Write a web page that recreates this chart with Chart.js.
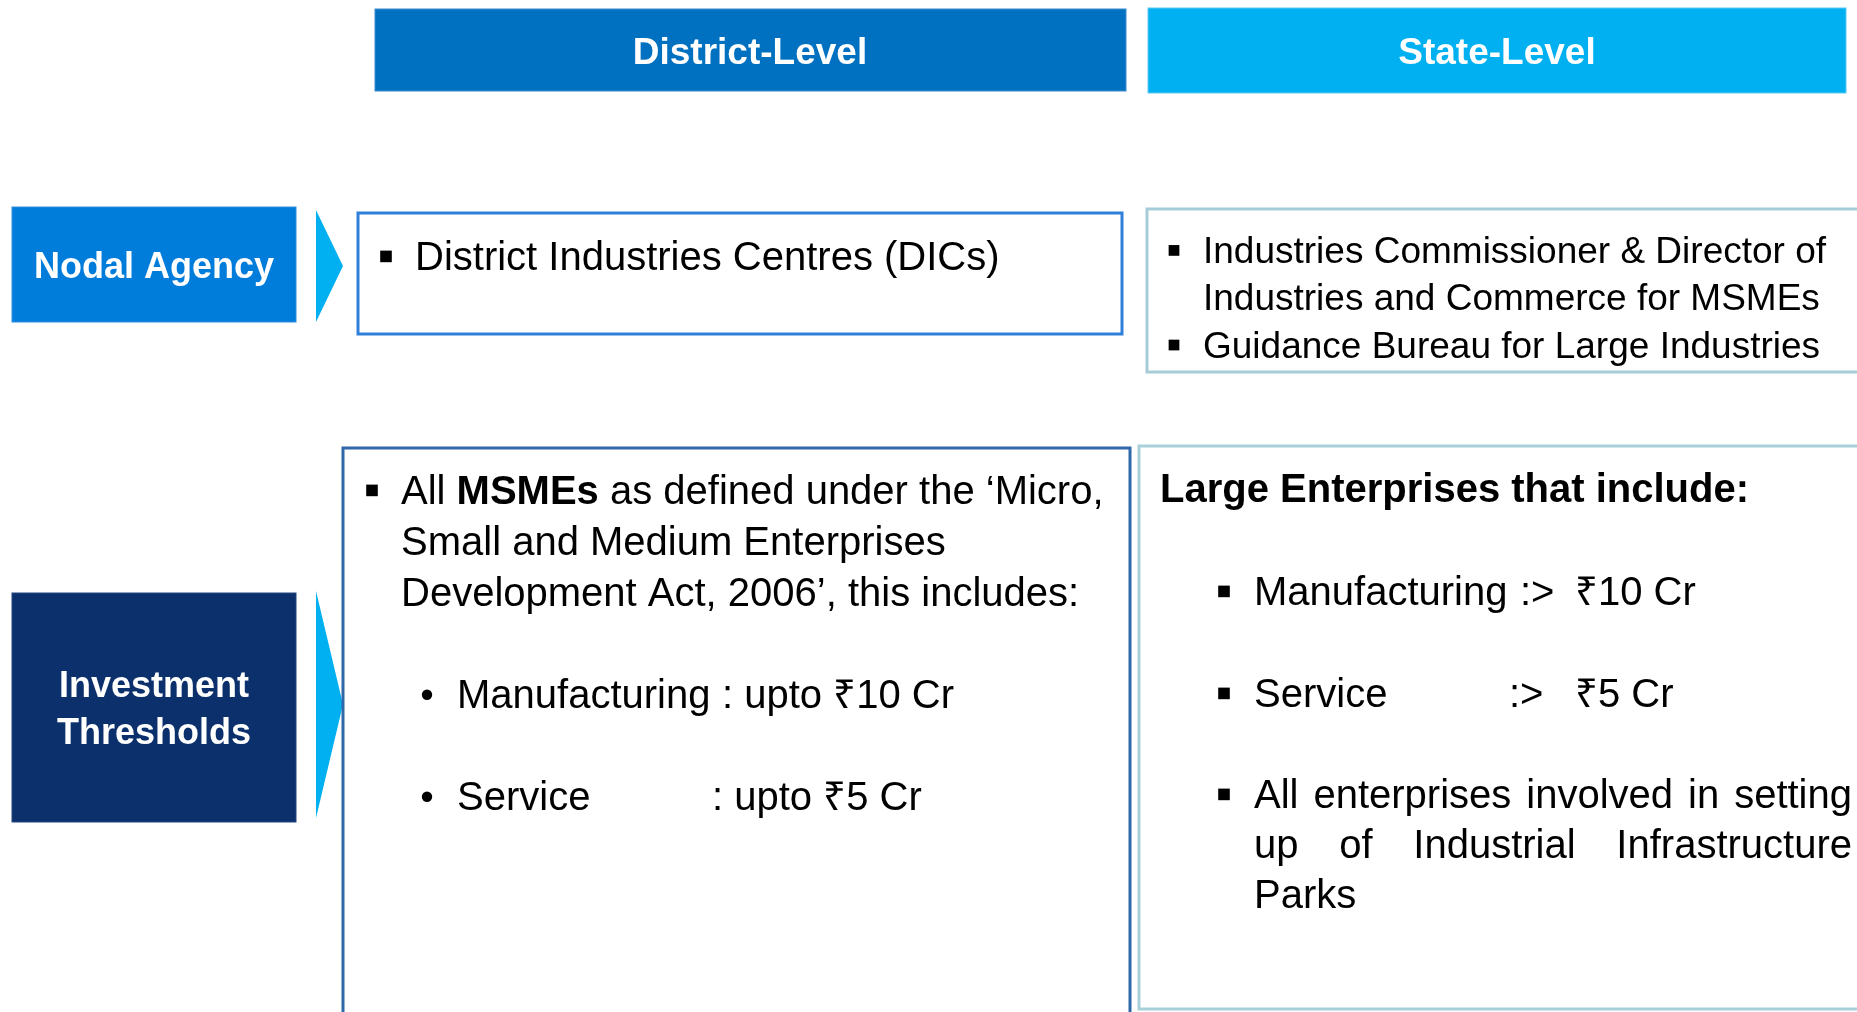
<!DOCTYPE html>
<html>
<head>
<meta charset="utf-8">
<title>District vs State Level</title>
<script src="https://cdn.jsdelivr.net/npm/chart.js@4.4.1/dist/chart.umd.min.js"></script>
<style>
  html, body { margin: 0; padding: 0; background: #fff; }
  canvas { display: block; }
</style>
</head>
<body>
<canvas id="diagram" width="1857" height="1012"></canvas>
<script>
// content
const columns = ['District-Level', 'State-Level'];
const rows = ['Nodal Agency', ['Investment', 'Thresholds']];
const districtNodal = ['District Industries Centres (DICs)'];
const stateNodal = [
  ['Industries Commissioner & Director of', 'Industries and Commerce for MSMEs'],
  ['Guidance Bureau for Large Industries']
];
const msmeIntro = [
  [['All ', false], ['MSMEs', true], [' as defined under the \u2018Micro,', false]],
  [['Small and Medium Enterprises', false]],
  [['Development Act, 2006\u2019, this includes:', false]]
];
const districtLimits = [['Manufacturing', ': upto \u20b910 Cr'], ['Service', ': upto \u20b95 Cr']];
const stateHeading = 'Large Enterprises that include:';
const stateLimits = [['Manufacturing', ':>', '\u20b910 Cr'], ['Service', ':>', '\u20b95 Cr']];
const parksItem = [
  ['All', 'enterprises', 'involved', 'in', 'setting'],
  ['up', 'of', 'Industrial', 'Infrastructure'],
  ['Parks']
];

const FONT = '"Liberation Sans", Arial, sans-serif';

const diagramPlugin = {
  id: 'diagram',
  afterDraw(chart) {
    const { ctx, scales: { x, y } } = chart;
    const px = v => x.getPixelForValue(v);
    const py = v => y.getPixelForValue(v);

    function box(x0, y0, x1, y1, fill, stroke, lw) {
      ctx.save();
      if (fill) {
        ctx.fillStyle = fill;
        ctx.fillRect(px(x0), py(y0), px(x1) - px(x0), py(y1) - py(y0));
      }
      if (stroke) {
        ctx.strokeStyle = stroke;
        ctx.lineWidth = lw;
        ctx.strokeRect(px(x0), py(y0), px(x1) - px(x0), py(y1) - py(y0));
      }
      ctx.restore();
    }
    function arrow(xl, yt, xr, yb) {
      ctx.save();
      ctx.fillStyle = '#00B0F0';
      ctx.beginPath();
      ctx.moveTo(px(xl), py(yt));
      ctx.lineTo(px(xr), py((yt + yb) / 2));
      ctx.lineTo(px(xl), py(yb));
      ctx.closePath();
      ctx.fill();
      ctx.restore();
    }
    function text(str, tx, base, size, bold, color, align) {
      ctx.save();
      ctx.font = (bold ? 'bold ' : '') + size + 'px ' + FONT;
      ctx.fillStyle = color || '#000';
      ctx.textAlign = align || 'left';
      ctx.textBaseline = 'alphabetic';
      ctx.fillText(str, px(tx), py(base));
      const w = ctx.measureText(str).width;
      ctx.restore();
      return w;
    }
    function square(cx, base, size) {
      const s = size * 0.29;
      const cy = base - size * 0.34;
      ctx.save();
      ctx.fillStyle = '#000';
      ctx.fillRect(px(cx) - s / 2, py(cy) - s / 2, s, s);
      ctx.restore();
    }
    function dot(cx, base, size) {
      ctx.save();
      ctx.fillStyle = '#000';
      ctx.beginPath();
      ctx.arc(px(cx), py(base - size * 0.33), size * 0.13, 0, Math.PI * 2);
      ctx.fill();
      ctx.restore();
    }
    function justify(words, x0, x1, base, size) {
      ctx.save();
      ctx.font = size + 'px ' + FONT;
      const widths = words.map(w => ctx.measureText(w).width);
      ctx.restore();
      const total = widths.reduce((a, b) => a + b, 0);
      const gap = (px(x1) - px(x0) - total) / (words.length - 1);
      let cx = px(x0);
      words.forEach((w, i) => {
        text(w, x.getValueForPixel(cx), base, size, false);
        cx += widths[i] + gap;
      });
    }

    // column headers
    box(375, 9, 1126, 91, '#0070C0', '#3A8CD0', 1);
    box(1148, 8, 1846, 93, '#00B0F0', '#5CCAF3', 1);
    text(columns[0], 750, 64, 37, true, '#fff', 'center');
    text(columns[1], 1497, 64, 37, true, '#fff', 'center');

    // row labels
    box(12, 207, 296, 322, '#007DDB', '#2F8FE0', 1);
    text(rows[0], 154, 278, 36, true, '#fff', 'center');
    arrow(316, 210, 343, 322);

    box(12, 593, 296, 822, '#0B306C', '#24467F', 1);
    text(rows[1][0], 154, 697, 36, true, '#fff', 'center');
    text(rows[1][1], 154, 744, 36, true, '#fff', 'center');
    arrow(316, 591, 343, 818);

    // nodal agency cells
    box(358, 213, 1122, 334, '#fff', '#2F80D8', 3);
    square(386, 270, 40);
    text(districtNodal[0], 415, 270, 40, false);

    box(1147, 209, 1866, 372, '#fff', '#A6CDD7', 3);
    let base = 263;
    stateNodal.forEach(item => {
      square(1174, base, 37);
      item.forEach(line => {
        text(line, 1203, base, 37, false);
        base += 47.3;
      });
    });

    // investment threshold cells
    box(343, 448, 1130, 1030, '#fff', '#2E68A8', 3);
    square(372, 504, 40);
    msmeIntro.forEach((line, i) => {
      let tx = 401;
      const b = 504 + i * 51;
      line.forEach(([str, bold]) => {
        tx += text(str, tx, b, 40, bold);
      });
    });
    districtLimits.forEach(([label, limit], i) => {
      const b = 708 + i * 102;
      dot(427, b, 40);
      text(label, 457, b, 40, false);
      text(limit, i === 0 ? 722 : 712, b, 40, false);
    });

    box(1139, 446, 1866, 1009, '#fff', '#A8D0D9', 3);
    text(stateHeading, 1160, 502, 40, true);
    stateLimits.forEach(([label, sign, limit], i) => {
      const b = 605 + i * 102;
      square(1224, b, 40);
      text(label, 1254, b, 40, false);
      text(sign, i === 0 ? 1520 : 1509, b, 40, false);
      text(limit, 1575, b, 40, false);
    });
    square(1224, 808, 40);
    justify(parksItem[0], 1254, 1852, 808, 40);
    justify(parksItem[1], 1254, 1852, 858, 40);
    text(parksItem[2][0], 1254, 908, 40, false);
  }
};

new Chart(document.getElementById('diagram'), {
  type: 'scatter',
  data: { datasets: [{ data: [] }] },
  options: {
    responsive: false,
    animation: false,
    layout: { padding: 0 },
    plugins: { legend: { display: false }, tooltip: { enabled: false } },
    scales: {
      x: { type: 'linear', min: 0, max: 1857, display: false },
      y: { type: 'linear', min: 0, max: 1012, reverse: true, display: false }
    }
  },
  plugins: [diagramPlugin]
});
</script>
</body>
</html>
